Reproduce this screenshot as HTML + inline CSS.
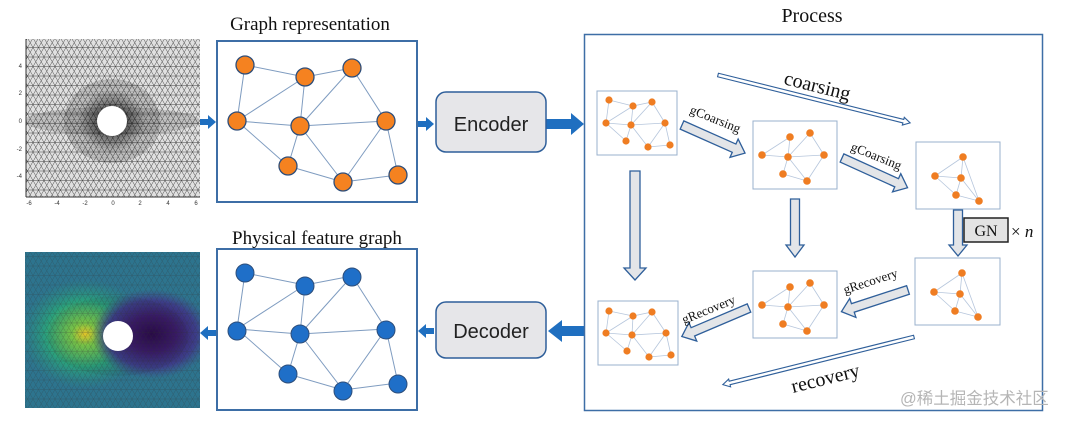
<!DOCTYPE html>
<html><head><meta charset="utf-8"><style>
html,body{margin:0;padding:0;background:#fff;width:1067px;height:422px;overflow:hidden}
svg{display:block}
.serif{font-family:"Liberation Serif",serif}
.sans{font-family:"Liberation Sans",sans-serif}
</style></head><body>
<svg width="1067" height="422" viewBox="0 0 1067 422" xmlns="http://www.w3.org/2000/svg">
<defs>
<pattern id="tri" width="11" height="9.5" patternUnits="userSpaceOnUse">
<path d="M0 0H11M0 9.5H11M0 9.5L5.5 0L11 9.5M0 0L5.5 9.5L11 0" stroke="#333" stroke-width="0.45" fill="none"/>
</pattern>
<pattern id="tri2" width="4" height="3.5" patternUnits="userSpaceOnUse">
<path d="M0 0H4M0 3.5L2 0L4 3.5M0 0L2 3.5L4 0" stroke="#111" stroke-width="0.35" fill="none"/>
</pattern>
<radialGradient id="dense" cx="0.5" cy="0.5" r="0.5">
<stop offset="0" stop-color="#000" stop-opacity="0.8"/>
<stop offset="0.45" stop-color="#000" stop-opacity="0.45"/>
<stop offset="1" stop-color="#000" stop-opacity="0"/>
</radialGradient>
<radialGradient id="green" cx="0.5" cy="0.5" r="0.5">
<stop offset="0" stop-color="#f2d02a"/>
<stop offset="0.2" stop-color="#7fcf4a"/>
<stop offset="0.6" stop-color="#2aa07c"/>
<stop offset="1" stop-color="#2a8a85" stop-opacity="0"/>
</radialGradient>
<radialGradient id="purple" cx="0.5" cy="0.5" r="0.5">
<stop offset="0" stop-color="#2a0a4a"/>
<stop offset="0.4" stop-color="#3a1a6a"/>
<stop offset="0.75" stop-color="#3c3f8a"/>
<stop offset="1" stop-color="#3c4f8a" stop-opacity="0"/>
</radialGradient>
<clipPath id="c1"><rect x="26" y="39" width="174" height="158"/></clipPath>
<clipPath id="c2"><rect x="25" y="252" width="175" height="156"/></clipPath>
</defs>

<!-- mesh 1 -->
<g clip-path="url(#c1)">
<rect x="26" y="39" width="174" height="158" fill="#e0e0e0"/>
<rect x="26" y="39" width="174" height="158" fill="url(#tri)"/>
<ellipse cx="112" cy="121" rx="88" ry="14" fill="url(#tri2)" opacity="0.45"/>
<ellipse cx="112" cy="121" rx="48" ry="42" fill="url(#tri2)" opacity="0.5"/>
<ellipse cx="112" cy="121" rx="34" ry="32" fill="url(#dense)"/>
<circle cx="112" cy="121" r="15" fill="#fff"/>
</g>
<line x1="26" y1="197" x2="200" y2="197" stroke="#333" stroke-width="1"/>
<line x1="26" y1="39" x2="26" y2="197" stroke="#333" stroke-width="1"/>
<g class="sans" font-size="6" fill="#333" text-anchor="end">
<text x="22" y="68">4</text><text x="22" y="95">2</text><text x="22" y="123">0</text><text x="22" y="151">-2</text><text x="22" y="178">-4</text>
</g>
<g class="sans" font-size="6" fill="#333" text-anchor="middle">
<text x="29" y="205">-6</text><text x="57" y="205">-4</text><text x="85" y="205">-2</text><text x="113" y="205">0</text><text x="140" y="205">2</text><text x="168" y="205">4</text><text x="196" y="205">6</text>
</g>

<!-- mesh 2 -->
<g clip-path="url(#c2)">
<rect x="25" y="252" width="175" height="156" fill="#2b7f8e"/>
<rect x="25" y="252" width="175" height="156" fill="#30608f" opacity="0.35"/>
<ellipse cx="85" cy="334" rx="65" ry="55" fill="url(#green)"/>
<ellipse cx="152" cy="334" rx="60" ry="45" fill="url(#purple)"/>
<rect x="25" y="252" width="175" height="156" fill="url(#tri)" opacity="0.4"/>
<ellipse cx="118" cy="336" rx="70" ry="40" fill="url(#tri2)" opacity="0.2"/>
<circle cx="118" cy="336" r="15" fill="#fff"/>
</g>

<!-- titles -->
<text x="310" y="30" class="serif" font-size="19" text-anchor="middle" fill="#111">Graph representation</text>
<text x="317" y="244" class="serif" font-size="19" text-anchor="middle" fill="#111">Physical feature graph</text>
<text x="812" y="22" class="serif" font-size="20" text-anchor="middle" fill="#111">Process</text>

<!-- graph boxes -->
<rect x="217" y="41" width="200" height="161" fill="#fff" stroke="#3d6ea6" stroke-width="2"/>
<rect x="217" y="249" width="200" height="161" fill="#fff" stroke="#3d6ea6" stroke-width="2"/>

<g stroke="#7f9cc0" stroke-width="1">
<path d="M245 65L237 121M245 65L305 77M305 77L352 68M305 77L237 121M305 77L300 126M352 68L300 126M352 68L386 121M237 121L300 126M300 126L386 121M237 121L288 166M288 166L300 126M300 126L343 182M343 182L386 121M343 182L398 175M386 121L398 175M288 166L343 182"/>
<path transform="translate(0,208)" d="M245 65L237 121M245 65L305 77M305 77L352 68M305 77L237 121M305 77L300 126M352 68L300 126M352 68L386 121M237 121L300 126M300 126L386 121M237 121L288 166M288 166L300 126M300 126L343 182M343 182L386 121M343 182L398 175M386 121L398 175M288 166L343 182"/>
</g>
<g fill="#f58220" stroke="#2e4e7a" stroke-width="1.3">
<circle cx="245" cy="65" r="9"/><circle cx="305" cy="77" r="9"/><circle cx="352" cy="68" r="9"/><circle cx="237" cy="121" r="9"/><circle cx="300" cy="126" r="9"/><circle cx="386" cy="121" r="9"/><circle cx="288" cy="166" r="9"/><circle cx="343" cy="182" r="9"/><circle cx="398" cy="175" r="9"/>
</g>
<g fill="#1f6fc8" stroke="#2e4e7a" stroke-width="1" transform="translate(0,208)">
<circle cx="245" cy="65" r="9"/><circle cx="305" cy="78" r="9"/><circle cx="352" cy="69" r="9"/><circle cx="237" cy="123" r="9"/><circle cx="300" cy="126" r="9"/><circle cx="386" cy="122" r="9"/><circle cx="288" cy="166" r="9"/><circle cx="343" cy="183" r="9"/><circle cx="398" cy="176" r="9"/>
</g>

<!-- blue arrows main -->
<g fill="#1f6fc0">
<polygon points="200,119 208,119 208,115 216,122 208,129 208,125 200,125"/>
<polygon points="418,121 426,121 426,117 434,124 426,131 426,127 418,127"/>
<polygon points="546,119 571,119 571,113 584,124 571,135 571,129 546,129"/>
<polygon points="584,326 562,326 562,320 548,331 562,342 562,336 584,336"/>
<polygon points="434,328 426,328 426,324 418,331 426,338 426,334 434,334"/>
<polygon points="216,330 208,330 208,326 200,333 208,340 208,336 216,336"/>
</g>

<!-- encoder / decoder -->
<rect x="436" y="92" width="110" height="60" rx="10" fill="#e6e6e9" stroke="#2f5f9a" stroke-width="1.5"/>
<text x="491" y="131" class="sans" font-size="20" text-anchor="middle" fill="#222">Encoder</text>
<rect x="436" y="302" width="110" height="56" rx="10" fill="#e6e6e9" stroke="#2f5f9a" stroke-width="1.5"/>
<text x="491" y="338" class="sans" font-size="20" text-anchor="middle" fill="#222">Decoder</text>

<!-- process box -->
<rect x="584.5" y="34.5" width="458" height="376" fill="none" stroke="#3d6ea6" stroke-width="1.5"/>

<!-- small boxes -->
<g fill="#fff" stroke="#9ab0cc" stroke-width="1">
<rect x="597" y="91" width="80" height="64"/>
<rect x="753" y="121" width="84" height="68"/>
<rect x="916" y="142" width="84" height="67"/>
<rect x="915" y="258" width="85" height="67"/>
<rect x="753" y="271" width="84" height="67"/>
<rect x="598" y="301" width="80" height="64"/>
</g>

<!-- small graphs -->
<g stroke="#b6c6dc" stroke-width="0.8" fill="none">
<path d="M609 100L606 123M609 100L633 106M633 106L652 102M633 106L606 123M633 106L631 125M652 102L631 125M652 102L665 123M606 123L631 125M631 125L665 123M606 123L626 141M626 141L631 125M631 125L648 147M648 147L665 123M648 147L670 145M665 123L670 145"/>
<path d="M609 311L606 333M609 311L633 316M633 316L652 312M633 316L606 333M633 316L632 335M652 312L632 335M652 312L666 333M606 333L632 335M632 335L666 333M606 333L627 351M627 351L632 335M632 335L649 357M649 357L666 333M649 357L671 355M666 333L671 355"/>
<path d="M762 155L790 137M762 155L788 157M790 137L788 157M810 133L788 157M810 133L824 155M788 157L824 155M788 157L783 174M788 157L807 181M824 155L807 181M783 174L807 181"/>
<path transform="translate(0,150)" d="M762 155L790 137M762 155L788 157M790 137L788 157M810 133L788 157M810 133L824 155M788 157L824 155M788 157L783 174M788 157L807 181M824 155L807 181M783 174L807 181"/>
<path d="M935 176L963 157M935 176L961 178M963 157L961 178M963 157L979 201M961 178L956 195M961 178L979 201M956 195L979 201M935 176L956 195"/>
<path transform="translate(-1,116)" d="M935 176L963 157M935 176L961 178M963 157L961 178M963 157L979 201M961 178L956 195M961 178L979 201M956 195L979 201M935 176L956 195"/>
</g>
<g fill="#ef7d22">
<circle cx="609" cy="100" r="3.6"/><circle cx="633" cy="106" r="3.6"/><circle cx="652" cy="102" r="3.6"/><circle cx="606" cy="123" r="3.6"/><circle cx="631" cy="125" r="3.6"/><circle cx="665" cy="123" r="3.6"/><circle cx="626" cy="141" r="3.6"/><circle cx="648" cy="147" r="3.6"/><circle cx="670" cy="145" r="3.6"/>
<circle cx="609" cy="311" r="3.6"/><circle cx="633" cy="316" r="3.6"/><circle cx="652" cy="312" r="3.6"/><circle cx="606" cy="333" r="3.6"/><circle cx="632" cy="335" r="3.6"/><circle cx="666" cy="333" r="3.6"/><circle cx="627" cy="351" r="3.6"/><circle cx="649" cy="357" r="3.6"/><circle cx="671" cy="355" r="3.6"/>
<circle cx="790" cy="137" r="3.8"/><circle cx="810" cy="133" r="3.8"/><circle cx="762" cy="155" r="3.8"/><circle cx="788" cy="157" r="3.8"/><circle cx="824" cy="155" r="3.8"/><circle cx="783" cy="174" r="3.8"/><circle cx="807" cy="181" r="3.8"/>
<circle cx="790" cy="287" r="3.8"/><circle cx="810" cy="283" r="3.8"/><circle cx="762" cy="305" r="3.8"/><circle cx="788" cy="307" r="3.8"/><circle cx="824" cy="305" r="3.8"/><circle cx="783" cy="324" r="3.8"/><circle cx="807" cy="331" r="3.8"/>
<circle cx="963" cy="157" r="3.8"/><circle cx="935" cy="176" r="3.8"/><circle cx="961" cy="178" r="3.8"/><circle cx="956" cy="195" r="3.8"/><circle cx="979" cy="201" r="3.8"/>
<circle cx="962" cy="273" r="3.8"/><circle cx="934" cy="292" r="3.8"/><circle cx="960" cy="294" r="3.8"/><circle cx="955" cy="311" r="3.8"/><circle cx="978" cy="317" r="3.8"/>
</g>

<!-- fat gray arrows -->
<g fill="#e3e5e8" stroke="#2f5f9a" stroke-width="1.3" stroke-linejoin="miter">
<polygon transform="translate(682,125) rotate(24)" points="0,-4.5 57,-4.5 57,-10 69,0 57,10 57,4.5 0,4.5"/>
<polygon transform="translate(842,158) rotate(24.4)" points="0,-4.5 60,-4.5 60,-10 72,0 60,10 60,4.5 0,4.5"/>
<polygon transform="translate(635,171) rotate(90)" points="0,-5 97,-5 97,-11 109,0 97,11 97,5 0,5"/>
<polygon transform="translate(795,199) rotate(90)" points="0,-4.5 46,-4.5 46,-9 58,0 46,9 46,4.5 0,4.5"/>
<polygon transform="translate(958,210) rotate(90)" points="0,-4.5 35,-4.5 35,-9 46,0 35,9 35,4.5 0,4.5"/>
<polygon transform="translate(908,290) rotate(162)" points="0,-4.5 58,-4.5 58,-10 70,0 58,10 58,4.5 0,4.5"/>
<polygon transform="translate(749,308) rotate(157)" points="0,-4.5 61,-4.5 61,-10 73,0 61,10 61,4.5 0,4.5"/>
</g>

<!-- thin double arrows -->
<g fill="#fff" stroke="#2f5f9a" stroke-width="1.1">
<polygon transform="translate(718,75) rotate(14)" points="0,-1.8 191,-1.8 191,-4 198,0 191,4 191,1.8 0,1.8"/>
<polygon transform="translate(914,337) rotate(166)" points="0,-1.8 190,-1.8 190,-4 197,0 190,4 190,1.8 0,1.8"/>
</g>

<!-- labels -->
<g class="serif" fill="#111">
<text transform="translate(783,84) rotate(14)" font-size="20">coarsing</text>
<text transform="translate(793,393) rotate(-14)" font-size="20">recovery</text>
<text transform="translate(689,113) rotate(22)" font-size="13">gCoarsing</text>
<text transform="translate(850,150) rotate(22)" font-size="13">gCoarsing</text>
<text transform="translate(845,294) rotate(-18)" font-size="13">gRecovery</text>
<text transform="translate(684,324) rotate(-22)" font-size="13">gRecovery</text>
</g>

<!-- GN -->
<rect x="964" y="218" width="44" height="24" fill="#e3e3e3" stroke="#222" stroke-width="1.5"/>
<text x="986" y="236" class="serif" font-size="16" text-anchor="middle" fill="#111">GN</text>
<text x="1011" y="237" class="serif" font-size="17" fill="#111">× <tspan font-style="italic">n</tspan></text>

<!-- watermark -->
<text x="900" y="404" font-family="'Liberation Sans','Noto Sans CJK SC',sans-serif" font-size="16.5" fill="#b5b5b5">@稀土掘金技术社区</text>
</svg>
</body></html>
